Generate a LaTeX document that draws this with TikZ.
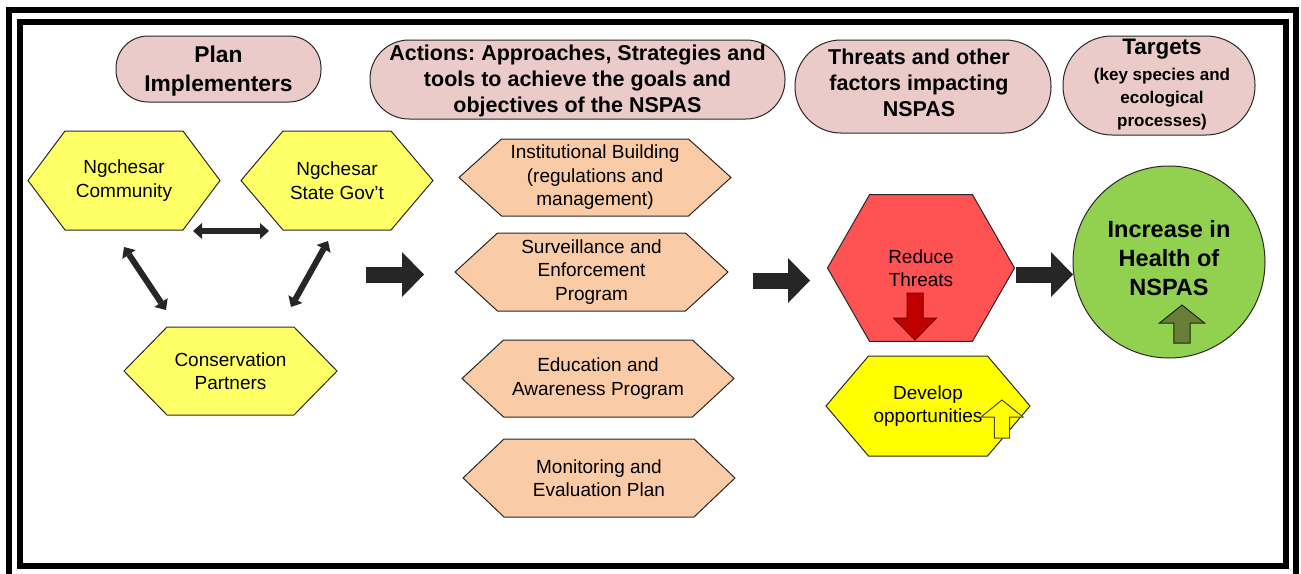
\documentclass[tikz,border=0pt]{standalone}
\usepackage{fontspec}
\setmainfont{Liberation Sans}
\usetikzlibrary{arrows.meta}
\frenchspacing
\definecolor{pillpink}{RGB}{234,203,202}
\definecolor{lightyel}{RGB}{255,255,102}
\definecolor{peach}{RGB}{249,203,166}
\definecolor{redhex}{RGB}{255,82,82}
\definecolor{purey}{RGB}{255,255,0}
\definecolor{leaf}{RGB}{146,208,80}
\definecolor{olivearr}{RGB}{103,126,55}
\definecolor{darkred}{RGB}{192,0,0}
\definecolor{arrowdark}{RGB}{38,38,38}
\definecolor{edgecol}{RGB}{40,40,40}

% #1 name, #2 cx, #3 cy, #4 half width, #5 top half width, #6 half height, #7 fill, #8 text
\newcommand\hexa[8]{%
  \draw[hexline, fill=#7] (#2-#4,#3) -- (#2-#5,#3-#6) -- (#2+#5,#3-#6) -- (#2+#4,#3)
     -- (#2+#5,#3+#6) -- (#2-#5,#3+#6) -- cycle;
  \node[hextext, minimum width=#4 pt, minimum height=#6 pt] (#1) at (#2,#3) {#8};}

\begin{document}
\begin{tikzpicture}[x=0.5pt,y=-0.5pt,
  frame/.style={draw=black, line width=3pt},
  pill/.style={draw=edgecol, line width=0.5pt, fill=pillpink, rectangle, rounded corners=#1, inner sep=0pt},
  hexline/.style={draw=edgecol, line width=0.5pt},
  hextext/.style={align=center, inner sep=0pt, font=\fontsize{9.5}{11.75}\selectfont},
  headtext/.style={align=center, inner sep=0pt, font=\bfseries\fontsize{10.75}{13}\selectfont},
  dblarrow/.style={line width=3pt, draw=arrowdark,
     {Triangle[width=8pt,length=4.5pt,line width=0pt]}-{Triangle[width=8pt,length=4.5pt,line width=0pt]}},
  bigarrow/.style={line width=8pt, draw=arrowdark, -{Triangle[width=22.5pt,length=11pt,line width=0pt]}},
  smallarrow/.style={line width=0.5pt}
]
\useasboundingbox (0,0) rectangle (1301,573);
\clip (0,0) rectangle (1301,573);
\fill[white] (0,0) rectangle (1301,573);
\draw[frame] (9,10) rectangle (1296,590);
\draw[frame] (19.5,21.5) rectangle (1286,566);

% header pills
\node[pill=16pt, minimum width=102.5pt, minimum height=33pt] (hplan) at (218.5,69) {};
\node[pill=19.5pt, minimum width=207.5pt, minimum height=39.5pt] (hact) at (577.5,79.5) {};
\node[pill=23pt, minimum width=128pt, minimum height=46.5pt] (hthr) at (923,86.5) {};
\node[pill=24.5pt, minimum width=96pt, minimum height=49.5pt] (htar) at (1159,85.5) {};

\node[headtext, font=\bfseries\fontsize{11.4}{14.7}\selectfont] (tplan) at (218.5,71) {Plan\\Implementers};
\node[headtext] (tact) at (577.5,80.5) {Actions: Approaches, Strategies and\\tools to achieve the goals and\\objectives of the NSPAS};
\node[headtext] (tthr) at (919,83) {Threats and other\\factors impacting\\NSPAS};
\node[headtext, font=\bfseries\fontsize{8.5}{11.5}\selectfont] (ttar) at (1162,84.5)
  {{\fontsize{11.2}{11}\selectfont Targets}\\[1.5pt](key species and\\ecological\\processes)};

% plan implementers
\hexa{comm}{124}{180.5}{96}{59}{49.5}{lightyel}{Ngchesar\\Community}
\hexa{gov}{337}{180.5}{96}{54}{49.5}{lightyel}{Ngchesar\\State Gov’t}
\hexa{cons}{230.5}{371}{106.5}{63.5}{44}{lightyel}{Conservation\\Partners}

\coordinate (h1a) at (193,231); \coordinate (h1b) at (269,231);
\coordinate (d1a) at (124,247); \coordinate (d1b) at (166,310);
\coordinate (d2a) at (328,241); \coordinate (d2b) at (291,307);
\draw[dblarrow] (h1a) -- (h1b);
\draw[dblarrow] (d1a) -- (d1b);
\draw[dblarrow] (d2a) -- (d2b);

% actions
\hexa{inst}{595}{177.5}{136}{93.5}{38.5}{peach}{Institutional Building\\(regulations and\\management)}
\hexa{surv}{591.5}{272}{136.5}{94}{39}{peach}{Surveillance and\\Enforcement\\Program}
\hexa{edu}{598}{378.5}{136}{94.5}{38.5}{peach}{Education and\\Awareness Program}
\hexa{mon}{599}{478}{136}{95}{39}{peach}{Monitoring and\\Evaluation Plan}

% threats
\hexa{red}{921}{268}{93.5}{51.5}{73.3}{redhex}{Reduce\\Threats}
\hexa{dev}{928}{406}{102}{59.5}{50}{purey}{Develop\\opportunities}

% target
\node[circle, draw=edgecol, line width=0.5pt, fill=leaf, minimum size=96pt, inner sep=0pt] (goal) at (1169,262) {};
\node[headtext, font=\bfseries\fontsize{11.75}{14.6}\selectfont] (tgoal) at (1169,258) {Increase in\\Health of\\NSPAS};

% flow arrows
\coordinate (a1s) at (366,274.5); \coordinate (a1e) at (424,274.5);
\coordinate (a2s) at (752.5,280.5); \coordinate (a2e) at (810,280.5);
\coordinate (a3s) at (1015.5,274.5); \coordinate (a3e) at (1073,274.5);
\draw[bigarrow] (a1s) -- (a1e);
\draw[bigarrow] (a2s) -- (a2e);
\draw[bigarrow] (a3s) -- (a3e);

% small block arrows
\draw[smallarrow, draw=red!45!black, fill=darkred]
  (907,293) -- (923,293) -- (923,318) -- (936.5,318) -- (915,340) -- (893.5,318) -- (907,318) -- cycle;
\draw[smallarrow, draw=black!60!olive, fill=purey]
  (994.3,438) -- (1009.7,438) -- (1009.7,417) -- (1023,417) -- (1002,400) -- (981,417) -- (994.3,417) -- cycle;
\draw[smallarrow, draw=black!70!olivearr, fill=olivearr]
  (1173.8,343) -- (1190.2,343) -- (1190.2,323) -- (1204.5,323) -- (1182,305) -- (1159.5,323) -- (1173.8,323) -- cycle;
\end{tikzpicture}
\end{document}
